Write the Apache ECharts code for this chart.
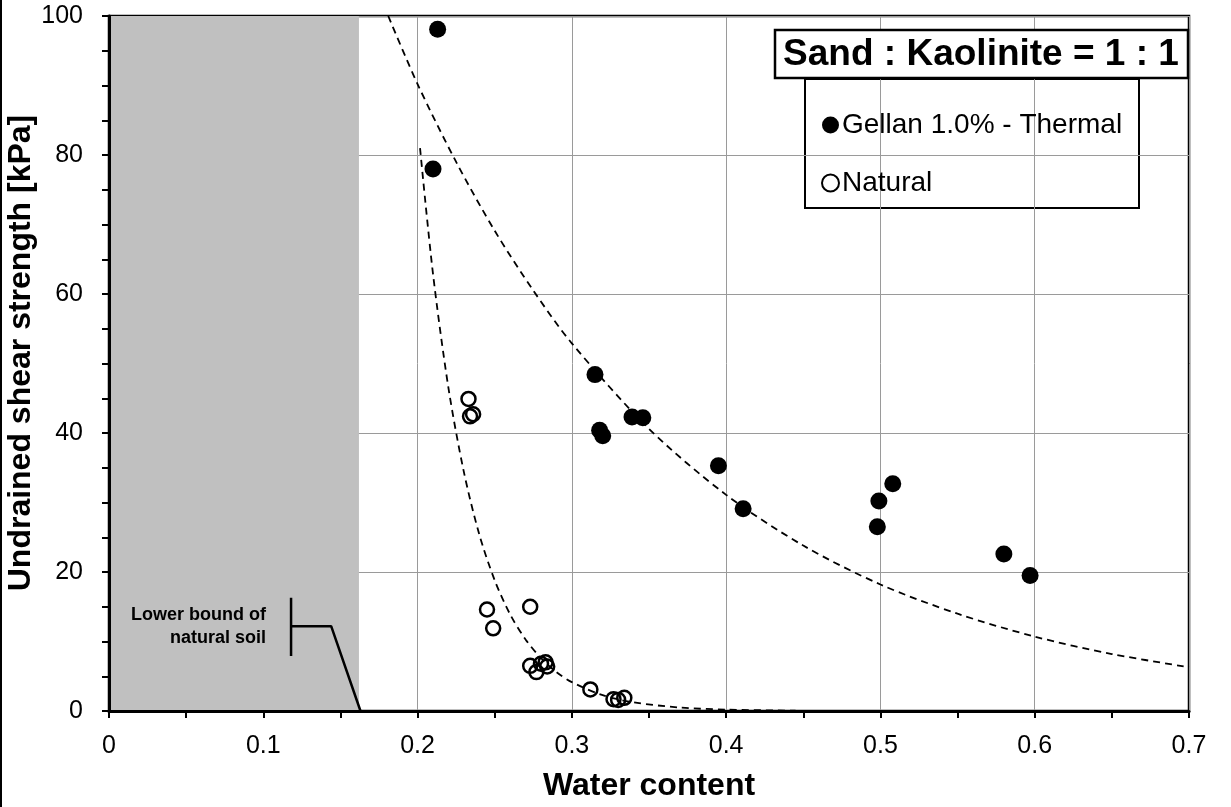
<!DOCTYPE html>
<html>
<head>
<meta charset="utf-8">
<script src="https://cdn.jsdelivr.net/npm/echarts@6/dist/echarts.min.js"></script>
<style>
html,body{margin:0;padding:0;background:#fff;}
#chart{width:1231px;height:807px;}
</style>
</head>
<body>
<div id="chart"></div>
<script>
// ---- data ----
const thermalX = [0.213, 0.210, 0.315, 0.318, 0.320, 0.339, 0.346, 0.395, 0.411, 0.498, 0.499, 0.508, 0.580, 0.597];
const thermalY = [98.1, 78.0, 48.4, 40.4, 39.6, 42.3, 42.2, 35.3, 29.1, 26.5, 30.2, 32.7, 22.6, 19.5];

const naturalX = [0.233, 0.234, 0.236, 0.245, 0.249, 0.273, 0.273, 0.277, 0.280, 0.283, 0.284, 0.312, 0.327, 0.330, 0.334];
const naturalY = [44.9, 42.4, 42.7, 14.6, 11.9, 15.0, 6.5, 5.6, 6.8, 7.0, 6.4, 3.1, 1.7, 1.6, 1.9];

const thermalTrendX = [0.181, 0.2, 0.225, 0.25, 0.275, 0.3, 0.35, 0.4, 0.45, 0.5, 0.55, 0.6, 0.65, 0.7];
const thermalTrendY = [100, 90.2, 79.0, 69.1, 60.5, 52.9, 40.6, 31.1, 23.8, 18.2, 14.0, 10.7, 8.2, 6.3];

const naturalTrendX = [0.2016, 0.21, 0.22, 0.23, 0.24, 0.25, 0.26, 0.27, 0.28, 0.29, 0.30, 0.32, 0.34, 0.37, 0.40, 0.445];
const naturalTrendY = [81, 62.9, 46.5, 34.4, 25.4, 18.8, 13.9, 10.3, 7.6, 5.6, 4.15, 2.27, 1.24, 0.50, 0.20, 0.05];

// shaded region (water content below natural-soil lower bound)
const shadedRange = [0, 0.162];
// bracket marking "Lower bound of natural soil"
const bracketStemX = [0.118, 0.118];
const bracketStemY = [16.3, 7.9];
const bracketArmX = [0.118, 0.144, 0.163];
const bracketArmY = [12.2, 12.2, 0];

const seriesNames = ['Gellan 1.0% - Thermal', 'Natural'];
const titleText = 'Sand : Kaolinite = 1 : 1';
const annotationText = 'Lower bound of\nnatural soil';
const xTitle = 'Water content';
const yTitle = 'Undrained shear strength [kPa]';

const zip = (xs, ys) => xs.map((x, i) => [x, ys[i]]);

const chart = echarts.init(document.getElementById('chart'));
const FONT = 'Liberation Sans, Arial, sans-serif';

chart.setOption({
  animation: false,
  grid: {
    left: 109, right: 42, top: 16, bottom: 96,
    containLabel: false, outerBoundsMode: 'none',
    show: true, borderColor: '#000', borderWidth: 2.5, backgroundColor: 'transparent', z: 1
  },
  xAxis: {
    type: 'value', min: 0, max: 0.7, interval: 0.1, z: 1,
    name: xTitle, nameLocation: 'middle', nameGap: 59,
    nameTextStyle: { fontFamily: FONT, fontSize: 32, fontWeight: 'bold', color: '#000' },
    axisLine: { onZero: false, lineStyle: { color: '#000', width: 3 } },
    axisTick: { show: true, inside: false, length: 7, lineStyle: { color: '#000', width: 2 } },
    minorTick: { show: true, splitNumber: 2, length: 7, lineStyle: { color: '#000', width: 2 } },
    axisLabel: { fontFamily: FONT, fontSize: 25, color: '#000', margin: 23,
      formatter: v => String(+v.toFixed(2)) },
    splitLine: { show: true, lineStyle: { color: '#9a9a9a', width: 1 } }
  },
  yAxis: {
    type: 'value', min: 0, max: 100, interval: 20, z: 1,
    axisLine: { onZero: false, lineStyle: { color: '#000', width: 3 } },
    axisTick: { show: true, inside: false, length: 7, lineStyle: { color: '#000', width: 2 } },
    minorTick: { show: true, splitNumber: 4, length: 7, lineStyle: { color: '#000', width: 2 } },
    axisLabel: { fontFamily: FONT, fontSize: 25, color: '#000', margin: 26 },
    splitLine: { show: true, lineStyle: { color: '#9a9a9a', width: 1 } }
  },
  legend: {
    data: seriesNames,
    orient: 'vertical', left: 816, top: 106,
    itemWidth: 17, itemHeight: 17, itemGap: 30,
    textStyle: { fontFamily: FONT, fontSize: 28, color: '#000', padding: [0,0,0,-2] },
    selectedMode: false
  },
  graphic: [
    { type: 'line', shape: { x1: 1, y1: 0, x2: 1, y2: 807 }, style: { stroke: '#000', lineWidth: 2 } },
    { type: 'text', x: 21, y: 353, rotation: Math.PI / 2,
      style: { text: yTitle, font: 'bold 32px ' + FONT, fill: '#000', align: 'center', verticalAlign: 'middle' } },
    { type: 'rect', shape: { x: 775, y: 30, width: 413, height: 48 },
      style: { fill: '#fff', stroke: '#000', lineWidth: 2.5 }, z: 10 },
    { type: 'text', x: 981, y: 55, z: 11,
      style: { text: titleText, font: 'bold 37px ' + FONT, fill: '#000', align: 'center', verticalAlign: 'middle' } },
    { type: 'rect', shape: { x: 805, y: 79, width: 334, height: 129 },
      style: { fill: '#fff', stroke: '#000', lineWidth: 2 }, z: 0 },
    { type: 'text', x: 266, y: 627, z: 11,
      style: { text: annotationText, font: 'bold 18px ' + FONT, fill: '#000', align: 'right', verticalAlign: 'middle', lineHeight: 23 } }
  ],
  series: [
    {
      type: 'scatter', name: 'shade', data: [], z: 0.5, silent: true,
      markArea: {
        silent: true,
        itemStyle: { color: '#c0c0c0' },
        data: [[{ xAxis: shadedRange[0], yAxis: 0 }, { xAxis: shadedRange[1], yAxis: 100 }]]
      }
    },
    {
      type: 'line', name: 'bracketStem', data: zip(bracketStemX, bracketStemY), z: 3,
      symbol: 'none', lineStyle: { color: '#000', width: 2.5 }
    },
    {
      type: 'line', name: 'bracketArm', data: zip(bracketArmX, bracketArmY), z: 3,
      symbol: 'none', lineStyle: { color: '#000', width: 2.5 }
    },
    {
      type: 'line', name: 'thermalTrend', data: zip(thermalTrendX, thermalTrendY), z: 3,
      symbol: 'none', smooth: 0.3, lineStyle: { color: '#000', width: 1.8, type: [7, 5] }
    },
    {
      type: 'line', name: 'naturalTrend', data: zip(naturalTrendX, naturalTrendY), z: 3,
      symbol: 'none', smooth: 0.3, lineStyle: { color: '#000', width: 1.8, type: [7, 5] }
    },
    {
      type: 'scatter', name: seriesNames[0], data: zip(thermalX, thermalY), z: 4,
      symbol: 'circle', symbolSize: 17, itemStyle: { color: '#000', opacity: 1 }
    },
    {
      type: 'scatter', name: seriesNames[1], data: zip(naturalX, naturalY), z: 4,
      symbol: 'circle', symbolSize: 14,
      itemStyle: { color: 'rgba(255,255,255,0)', borderColor: '#000', borderWidth: 2.5, opacity: 1 }
    }
  ]
});
</script>
</body>
</html>
